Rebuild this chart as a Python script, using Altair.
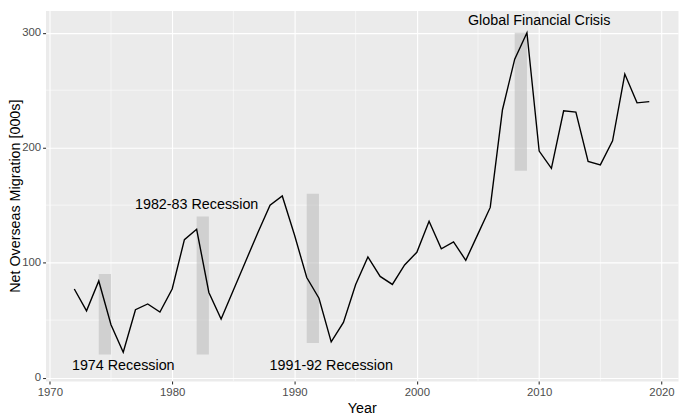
import altair as alt
import pandas as pd

# ---- data ----
years = list(range(1972, 2020))
migration = [77, 58, 84, 46, 22, 59, 64, 57, 77, 120,
             129, 74, 51, 76, 101, 126, 150, 158, 124, 87,
             69, 31, 48, 81, 105, 88, 81, 98, 109, 136,
             112, 118, 102, 125, 148, 233, 277, 300, 197, 182,
             232, 231, 188, 185, 206, 264, 239, 240]

rect_start = [1974, 1982, 1991, 2008]
rect_end = [1975, 1983, 1992, 2009]
rect_low = [20, 20, 30, 180]
rect_high = [90, 140, 160, 300]

label_text = ["1974 Recession", "1982-83 Recession", "1991-92 Recession", "Global Financial Crisis"]
label_year = [1976, 1982, 1993, 2010]
label_value = [10, 150, 10, 310]

x_major = [1970, 1980, 1990, 2000, 2010, 2020]
x_minor = [1975, 1985, 1995, 2005, 2015]
y_major = [0, 100, 200, 300]
y_minor = [50, 150, 250]

line_df = pd.DataFrame({"year": years, "value": migration})
rect_df = pd.DataFrame({"x1": rect_start, "x2": rect_end, "y1": rect_low, "y2": rect_high})
text_df = pd.DataFrame({"label": label_text, "year": label_year, "value": label_value})
xminor_df = pd.DataFrame({"year": x_minor})
yminor_df = pd.DataFrame({"value": y_minor})

FONT = "Liberation Sans"
xscale = alt.Scale(domain=[1969.65, 2021.35], nice=False, zero=False)
yscale = alt.Scale(domain=[-3, 319.4], nice=False, zero=False)

xaxis = alt.Axis(values=x_major, format="d", title="Year", grid=True, gridColor="white",
                 gridWidth=1.1, domain=False, tickColor="#333333", tickSize=3, tickWidth=1.1,
                 labelColor="#4D4D4D", labelFontSize=11.5, labelFont=FONT, labelPadding=3,
                 labelFlush=False, labelOverlap=False,
                 titleFont=FONT, titleFontSize=14.5, titleFontWeight="normal", titleColor="black",
                 titleY=32, titleBaseline="alphabetic")
yaxis = alt.Axis(values=y_major, format="d", title="Net Overseas Migration [000s]", grid=True,
                 gridColor="white", gridWidth=1.1, domain=False, tickColor="#333333", tickSize=3,
                 tickWidth=1.1, labelColor="#4D4D4D", labelFontSize=11.5, labelFont=FONT,
                 labelPadding=2, labelFlush=False, labelOverlap=False,
                 titleFont=FONT, titleFontSize=14.5, titleFontWeight="normal", titleColor="black",
                 titleAngle=270, titleX=-30, titleY=187.5, titleBaseline="middle", titleAlign="center")

xminor = alt.Chart(xminor_df).mark_rule(color="white", strokeWidth=0.55).encode(
    x=alt.X("year:Q", scale=xscale, axis=xaxis))
yminor = alt.Chart(yminor_df).mark_rule(color="white", strokeWidth=0.55).encode(
    y=alt.Y("value:Q", scale=yscale, axis=yaxis))

rects = alt.Chart(rect_df).mark_rect(color="#BEBEBE", opacity=0.6).encode(
    x=alt.X("x1:Q", scale=xscale, axis=xaxis), x2="x2:Q",
    y=alt.Y("y1:Q", scale=yscale, axis=yaxis), y2="y2:Q")

line = alt.Chart(line_df).mark_line(color="black", strokeWidth=1.4).encode(
    x=alt.X("year:Q", scale=xscale, axis=xaxis),
    y=alt.Y("value:Q", scale=yscale, axis=yaxis))

texts = alt.Chart(text_df).mark_text(font=FONT, fontSize=14.5, color="black",
                                     align="center", baseline="middle").encode(
    x=alt.X("year:Q", scale=xscale, axis=xaxis),
    y=alt.Y("value:Q", scale=yscale, axis=yaxis),
    text="label:N")

chart = alt.layer(xminor, yminor, rects, line, texts).properties(
    width=640, height=375,
    autosize=alt.AutoSizeParams(type="none"),
    padding={"left": 38, "top": 0, "right": 2, "bottom": 34},
    background="white",
).configure_view(fill="#EBEBEB", stroke="transparent")

chart.save("out.html", embed_options={"renderer": "svg", "actions": False})
